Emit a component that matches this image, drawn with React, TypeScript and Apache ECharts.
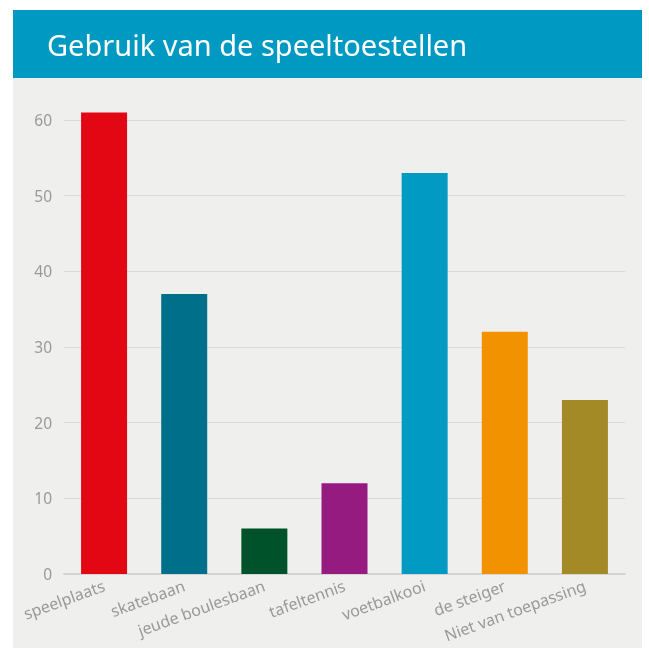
import React, { useEffect, useRef } from "react";
import * as echarts from "echarts";

const categories = ["speelplaats", "skatebaan", "jeude boulesbaan", "tafeltennis", "voetbalkooi", "de steiger", "Niet van toepassing"];
const values = [61, 37, 6, 12, 53, 32, 23];
const colors = ["#e30613", "#006f89", "#00522a", "#951b81", "#009ac3", "#f39200", "#a38a27"];
const titleText = "Gebruik van de speeltoestellen";

export default function App() {
  const ref = useRef<HTMLDivElement>(null);
  useEffect(() => {
    const chart = echarts.init(ref.current!, null, { renderer: "svg" });
    chart.setOption({
      animation: false,
      graphic: [
        { type: "rect", z: -10, shape: { x: 13, y: 78, width: 629, height: 570 }, style: { fill: "#efefee" } },
        { type: "rect", z: -10, shape: { x: 13, y: 10, width: 629, height: 68 }, style: { fill: "#0099c2" } },
      ],
      title: {
        text: titleText,
        left: 42,
        top: 25,
        textStyle: { color: "#ffffff", fontSize: 29, fontWeight: "normal", fontFamily: "Noto Sans" },
      },
      grid: { left: 64, right: 24, top: 120, bottom: 74 },
      xAxis: {
        type: "category",
        data: categories,
        axisTick: { show: false },
        axisLine: { lineStyle: { color: "#d5d5d5", width: 2 } },
        axisLabel: { rotate: 20, color: "#999999", fontSize: 16, fontFamily: "Noto Sans", interval: 0, margin: 11 },
      },
      yAxis: {
        type: "value",
        min: 0,
        max: 60,
        interval: 10,
        axisLine: { show: false },
        axisTick: { show: false },
        splitLine: { lineStyle: { color: "#dadada", width: 1 } },
        axisLabel: { color: "#999999", fontSize: 15.5, fontFamily: "Noto Sans", margin: 12 },
      },
      series: [
        {
          type: "bar",
          clip: false,
          data: values.map((v, i) => ({ value: v, itemStyle: { color: colors[i] } })),
          barWidth: 46,
        },
      ],
    });
    return () => chart.dispose();
  }, []);
  return <div ref={ref} style={{ position: "fixed", left: 0, top: 0, width: 649, height: 648 }} />;
}
